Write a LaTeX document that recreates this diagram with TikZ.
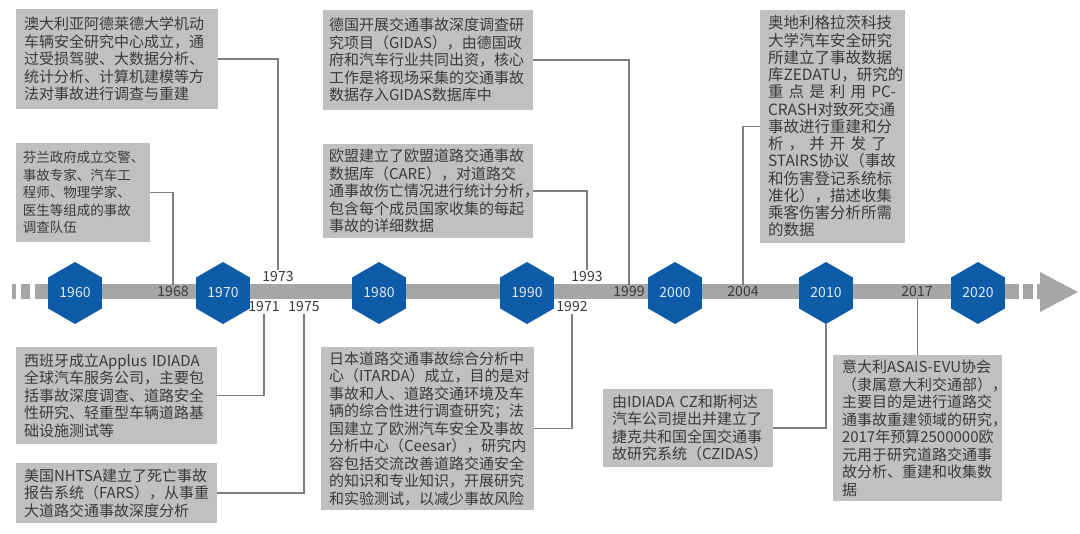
\documentclass[tikz,border=0pt]{standalone}
\usepackage{fontspec}
\setmainfont{Noto Sans CJK SC}
\usetikzlibrary{shapes.geometric}
\definecolor{boxgray}{HTML}{C0C0C0}
\definecolor{bargray}{HTML}{A6A6A6}
\definecolor{txt}{HTML}{3A3A3A}
\definecolor{hexblue}{HTML}{0E5CA8}
\definecolor{hextxt}{HTML}{DDE9F7}
\definecolor{linegray}{HTML}{7F7F7F}
\tikzset{
  infobox/.style={fill=boxgray, text=txt, inner xsep=8pt, inner ysep=0pt, align=left,
    outer sep=0pt, font=\fontsize{15}{17.5}\selectfont},
  hexnode/.style={regular polygon, regular polygon sides=6, shape border rotate=30,
    minimum size=62pt, inner sep=0pt, outer sep=0pt, fill=hexblue, text=hextxt,
    font=\fontsize{14}{16}\selectfont},
  yearlbl/.style={text=txt, inner sep=2pt, font=\fontsize{14}{16}\selectfont},
  conn/.style={draw=linegray, line width=1.1pt},
  barpart/.style={fill=bargray, draw=none}
}
\begin{document}
\begin{tikzpicture}[x=1pt,y=-1pt]
\useasboundingbox (0,0) rectangle (1080,534);

% timeline bar
\fill[barpart] (12,284) rectangle (16,299);
\fill[barpart] (21,284) rectangle (30,299);
\fill[barpart] (35,284) rectangle (1019,299);
\fill[barpart] (1023,284) rectangle (1033,299);
\fill[barpart] (1037,284) rectangle (1041,299);
\fill[barpart] (1040,272) -- (1078,292) -- (1040,312) -- cycle;

% hexagons
\node[hexnode] (h1960) at (75,293) {1960};
\node[hexnode] (h1970) at (223,293) {1970};
\node[hexnode] (h1980) at (379,293) {1980};
\node[hexnode] (h1990) at (527,293) {1990};
\node[hexnode] (h2000) at (675,293) {2000};
\node[hexnode] (h2010) at (826,293) {2010};
\node[hexnode] (h2020) at (978,293) {2020};

% year labels
\node[yearlbl] (y1968) at (173,292) {1968};
\node[yearlbl] (y1973) at (278,277) {1973};
\node[yearlbl] (y1971) at (264,307) {1971};
\node[yearlbl] (y1975) at (304,307) {1975};
\node[yearlbl] (y1993) at (587,277) {1993};
\node[yearlbl] (y1992) at (572,307) {1992};
\node[yearlbl] (y1999) at (629,292) {1999};
\node[yearlbl] (y2004) at (743,292) {2004};
\node[yearlbl] (y2017) at (917,292) {2017};

% boxes
\node[infobox, text width=186pt, minimum height=100pt] (b1) at (117,59) {澳大利亚阿德莱德大学机动\\车辆安全研究中心成立，通\\过受损驾驶、大数据分析、\\统计分析、计算机建模等方\\法对事故进行调查与重建};

\node[infobox, inner xsep=7pt, text width=120pt, minimum height=99pt, font=\fontsize{13.5}{17.5}\selectfont] (b2) at (83,192.5) {芬兰政府成立交警、\\事故专家、汽车工\\程师、物理学家、\\医生等组成的事故\\调查队伍};

\node[infobox, inner xsep=6pt, text width=198pt, minimum height=100pt] (b3) at (428,60) {德国开展交通事故深度调查研\\究项目（GIDAS），由德国政\\府和汽车行业共同出资，核心\\工作是将现场采集的交通事故\\数据存入GIDAS数据库中};

\node[infobox, inner xsep=6pt, text width=198pt, minimum height=94pt] (b4) at (428,191) {欧盟建立了欧盟道路交通事故\\数据库（CARE），对道路交\\通事故伤亡情况进行统计分析，\\包含每个成员国家收集的每起\\事故的详细数据};

\node[infobox, inner xsep=8pt, text width=129pt, minimum height=233pt, font=\fontsize{15.5}{17.25}\selectfont] (b5) at (832.5,126.5) {奥地利格拉茨科技\\大学汽车安全研究\\所建立了事故数据\\库ZEDATU，研究的\\\makebox[\linewidth][s]{重 点 是 利 用 PC-}\\CRASH对致死交通\\事故进行重建和分\\\makebox[\linewidth][s]{析 ， 并 开 发 了}\\STAIRS协议（事故\\和伤害登记系统标\\准化），描述收集\\乘客伤害分析所需\\的数据};

\node[infobox, text width=185pt, minimum height=97pt] (b6) at (116.5,395.5) {西班牙成立Applus IDIADA\\全球汽车服务公司，主要包\\括事故深度调查、道路安全\\性研究、轻重型车辆道路基\\础设施测试等};

\node[infobox, text width=185pt, minimum height=60pt] (b7) at (116.5,493) {美国NHTSA建立了死亡事故\\报告系统（FARS），从事重\\大道路交通事故深度分析};

\node[infobox, inner xsep=8pt, text width=197pt, minimum height=163pt] (b8) at (427.5,428.5) {日本道路交通事故综合分析中\\心（ITARDA）成立，目的是对\\事故和人、道路交通环境及车\\辆的综合性进行调查研究；法\\国建立了欧洲汽车安全及事故\\分析中心（Ceesar），研究内\\容包括交流改善道路交通安全\\的知识和专业知识，开展研究\\和实验测试，以减少事故风险};

\node[infobox, inner xsep=9pt, text width=152pt, minimum height=78pt] (b9) at (688,428) {由IDIADA CZ和斯柯达\\汽车公司提出并建立了\\捷克共和国全国交通事\\故研究系统（CZIDAS）};

\node[infobox, inner xsep=9pt, text width=151pt, minimum height=146pt] (b10) at (917.5,428) {意大利ASAIS-EVU协会\\（隶属意大利交通部），\\主要目的是进行道路交\\通事故重建领域的研究，\\2017年预算2500000欧\\元用于研究道路交通事\\故分析、重建和收集数\\据};

% connectors
\draw[conn] (b1.east) -| (y1973.north);
\draw[conn] (b2.east) -| (y1968.north);
\draw[conn] (b3.east) -| (y1999.north);
\draw[conn] (b4.east) -| (y1993.north);
\draw[conn] (b5.west) -| (y2004.north);
\draw[conn] (b6.east) -| (y1971.south);
\draw[conn] (b7.east) -| (y1975.south);
\draw[conn] (b8.east) -| (y1992.south);
\draw[conn] (b9.east) -| (h2010.south);
\draw[conn] (b10.north) -- (b10.north |- y2017.south);
\end{tikzpicture}
\end{document}
